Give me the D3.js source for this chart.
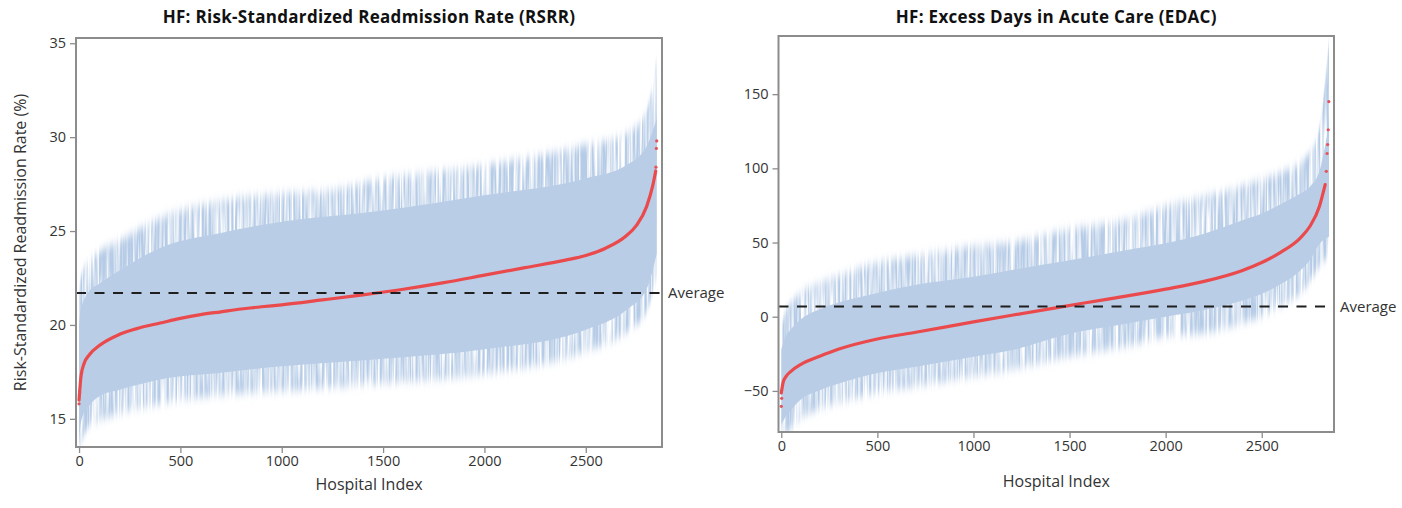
<!DOCTYPE html>
<html>
<head>
<meta charset="utf-8">
<script src="https://cdn.jsdelivr.net/npm/d3@7"></script>
<style>
    body { margin: 0; background: #fff; }
    svg { display: block; }
</style>
</head>
<body>
<div id="chart"></div>
<script>
// ---- data ----
const xTicks = [0, 500, 1000, 1500, 2000, 2500]

// RSRR panel
const rsrrTicks = [15, 20, 25, 30, 35]
const rsrrAverage = 21.7
const rsrrEstIdx = [0, 10, 25, 50, 100, 200, 300, 400, 500, 600, 700, 800, 900, 1000, 1200, 1400, 1600, 1800, 2000, 2200, 2400, 2500, 2600, 2700, 2750, 2800, 2830, 2845]
const rsrrEst = [16.0, 17.3, 17.95, 18.4, 18.9, 19.5, 19.85, 20.1, 20.35, 20.55, 20.7, 20.85, 20.97, 21.07, 21.33, 21.6, 21.9, 22.25, 22.65, 23.05, 23.45, 23.7, 24.1, 24.75, 25.3, 26.3, 27.4, 28.2]
const rsrrDotIdx = [0, 3, 2846, 2848, 2850]
const rsrrDot = [15.8, 16.4, 28.4, 29.4, 29.8]
const rsrrBandIdx = [0, 5, 20, 50, 100, 200, 400, 700, 1000, 1250, 1500, 2000, 2500, 2700, 2800, 2850]
const rsrrCoreHi = [20.0, 20.6, 21.2, 21.8, 22.2, 22.9, 24.1, 24.9, 25.5, 25.8, 26.1, 26.9, 27.8, 28.5, 29.5, 31.0]
const rsrrCoreLo = [13.6, 14.4, 15.2, 15.7, 16.2, 16.55, 17.1, 17.45, 17.8, 18.0, 18.2, 18.7, 19.75, 20.8, 21.9, 23.8]
const rsrrSpikeHi = [21.4, 22.3, 22.9, 23.4, 23.9, 24.5, 25.7, 26.6, 27.0, 27.2, 27.8, 28.5, 29.6, 30.2, 31.4, 34.3]
const rsrrSpikeLo = [13.5, 13.5, 14.0, 14.6, 14.9, 15.3, 15.8, 16.3, 16.5, 16.7, 16.9, 17.4, 18.6, 19.6, 20.7, 22.6]

// EDAC panel
const edacTicks = [-50, 0, 50, 100, 150]
const edacAverage = 6.9
const edacEstIdx = [0, 10, 25, 50, 100, 200, 300, 500, 700, 1000, 1200, 1450, 1700, 2000, 2200, 2400, 2500, 2600, 2700, 2750, 2800, 2830]
const edacEst = [-51.4, -44, -40.2, -36.8, -32.3, -26.7, -21.8, -15.0, -10.5, -3.5, 1.0, 6.5, 11.9, 18.6, 23.8, 31.2, 36.5, 43.5, 53, 60.8, 74.3, 89]
const edacDotIdx = [0, 2, 2836, 2840, 2843, 2846, 2849]
const edacDot = [-60.4, -55, 98, 110, 116, 126, 145]
const edacBandIdx = [0, 25, 50, 100, 200, 300, 500, 700, 1000, 1200, 1500, 1800, 2000, 2200, 2400, 2500, 2600, 2700, 2750, 2800, 2850]
const edacCoreHi = [-22, -13, -8.5, -2, 5, 9.5, 16, 21.5, 27, 31.5, 38, 45, 49.5, 56, 65, 69.5, 76, 83, 87.5, 98, 130]
const edacCoreLo = [-73, -67, -63, -56, -49.5, -45, -38, -33.7, -27, -22.5, -11.5, -4.5, 0, 4.5, 11, 15.5, 22, 31, 38, 49, 54]
const edacSpikeHi = [-8, 5, 9.5, 16, 22.5, 27.5, 36.5, 41, 47.5, 50, 59, 65.5, 74.5, 81, 88, 92.5, 97, 104, 111, 127, 186]
const edacSpikeLo = [-78, -78, -76, -69, -62, -58, -51, -46.7, -40, -35.5, -26.5, -19.7, -13, -11, -4, 0.5, 7, 16, 23, 34, 41]

const W = 1402, H = 508
const FONT = "'Open Sans', 'DejaVu Sans', sans-serif"
const AXIS_COLOR = "#8c8c8c"
const TEXT_COLOR = "#333"

const svg = d3.select("#chart")
    .append("svg")
    .attr("width", W)
    .attr("height", H)

// vertical streak texture for the ragged fringe of the interval band
const defs = svg.append("defs")
const streak = defs.append("filter")
    .attr("id", "streak")
    .attr("x", 0).attr("y", -0.05).attr("width", 1).attr("height", 1.1)
streak.append("feGaussianBlur")
    .attr("in", "SourceGraphic")
    .attr("stdDeviation", "0 5")
    .attr("result", "soft")
streak.append("feTurbulence")
    .attr("type", "fractalNoise")
    .attr("baseFrequency", "0.45 0.012")
    .attr("numOctaves", 2)
    .attr("seed", 7)
    .attr("result", "n")
streak.append("feColorMatrix")
    .attr("in", "n")
    .attr("type", "matrix")
    .attr("values", "0 0 0 0 0  0 0 0 0 0  0 0 0 0 0  0 0 0 2.4 -0.6")
    .attr("result", "a")
streak.append("feComposite")
    .attr("in", "soft")
    .attr("in2", "a")
    .attr("operator", "in")

const drawPanel = (p) => {
    const width = p.right - p.left
    const height = p.bottom - p.top

    const g = svg.append("g")
        .attr("transform", "translate(" + p.left + "," + p.top + ")")

    const x = d3.scaleLinear().domain(p.xDomain).range([0, width])
    const y = d3.scaleLinear().domain(p.yDomain).range([height, 0])

    defs.append("clipPath")
        .attr("id", p.id + "-clip")
        .append("rect")
        .attr("width", width)
        .attr("height", height)

    const plot = g.append("g").attr("clip-path", "url(#" + p.id + "-clip)")

    const band = p.bandIdx.map((d, i) => ({
        i: d, coreLo: p.coreLo[i], coreHi: p.coreHi[i], spikeLo: p.spikeLo[i], spikeHi: p.spikeHi[i]
    }))

    // outer fringe (spikes)
    plot.append("path")
        .datum(band)
        .attr("fill", "#b5cbe6")
        .attr("filter", "url(#streak)")
        .attr("d", d3.area()
            .curve(d3.curveMonotoneX)
            .x(d => x(d.i))
            .y0(d => y(d.spikeLo))
            .y1(d => y(d.spikeHi)))

    // dense core of the band
    plot.append("path")
        .datum(band)
        .attr("fill", "#b9cde6")
        .attr("d", d3.area()
            .curve(d3.curveMonotoneX)
            .x(d => x(d.i))
            .y0(d => y(d.coreLo))
            .y1(d => y(d.coreHi)))

    // estimates
    const est = p.estIdx.map((d, i) => ({ i: d, v: p.est[i] }))
    plot.append("path")
        .datum(est)
        .attr("fill", "none")
        .attr("stroke", "#ea4a4c")
        .attr("stroke-width", 3.2)
        .attr("stroke-linecap", "round")
        .attr("d", d3.line()
            .curve(d3.curveMonotoneX)
            .x(d => x(d.i))
            .y(d => y(d.v)))

    plot.append("g")
        .selectAll("circle")
        .data(p.dotIdx.map((d, i) => ({ i: d, v: p.dot[i] })))
        .enter()
        .append("circle")
        .attr("cx", d => x(d.i))
        .attr("cy", d => y(d.v))
        .attr("r", 1.6)
        .attr("fill", "#e4525a")

    // average line
    g.append("line")
        .attr("x1", 0)
        .attr("x2", width)
        .attr("y1", y(p.average))
        .attr("y2", y(p.average))
        .attr("stroke", "#1f1f1f")
        .attr("stroke-width", 2)
        .attr("stroke-dasharray", "10,8.5")

    g.append("text")
        .attr("x", width + 6)
        .attr("y", y(p.average))
        .attr("dy", "0.35em")
        .text("Average")
        .attr("font-size", 15)
        .attr("font-family", FONT)
        .style("fill", TEXT_COLOR)

    // axes
    const xAxis = g.append("g")
        .attr("transform", "translate(0," + height + ")")
        .call(d3.axisBottom(x).tickValues(p.xTicks).tickFormat(d3.format("d")).tickSize(6).tickPadding(3))
    const yAxis = g.append("g")
        .call(d3.axisLeft(y).tickValues(p.yTicks).tickFormat(d3.format("d")).tickSize(6).tickPadding(4))

    ;[xAxis, yAxis].forEach(a => {
        a.select(".domain").remove()
        a.selectAll(".tick line").attr("stroke", AXIS_COLOR).attr("stroke-width", 1.3)
        a.selectAll(".tick text")
            .attr("font-size", 14.5)
            .attr("font-family", FONT)
            .style("fill", TEXT_COLOR)
    })

    // frame
    g.append("rect")
        .attr("width", width)
        .attr("height", height)
        .attr("fill", "none")
        .attr("stroke", AXIS_COLOR)
        .attr("stroke-width", 2)

    // titles
    svg.append("text")
        .attr("x", p.left + width / 2)
        .attr("y", 23)
        .attr("text-anchor", "middle")
        .text(p.title)
        .attr("font-size", 17)
        .attr("letter-spacing", 0.3)
        .attr("font-weight", "bold")
        .attr("font-family", FONT)
        .style("fill", "#111")

    svg.append("text")
        .attr("x", p.left + width / 2)
        .attr("y", p.xLabelY)
        .attr("text-anchor", "middle")
        .text("Hospital Index")
        .attr("font-size", 16)
        .attr("font-family", FONT)
        .style("fill", TEXT_COLOR)

    if (p.yLabel) {
        svg.append("text")
            .attr("transform", "translate(" + 26 + "," + (p.top + height / 2) + ") rotate(-90)")
            .attr("text-anchor", "middle")
            .text(p.yLabel)
            .attr("font-size", 16)
            .attr("font-family", FONT)
            .style("fill", TEXT_COLOR)
    }
}

drawPanel({
    id: "rsrr",
    title: "HF: Risk-Standardized Readmission Rate (RSRR)",
    yLabel: "Risk-Standardized Readmission Rate (%)",
    left: 76, right: 662, top: 38, bottom: 447, xLabelY: 490,
    xDomain: [-15, 2876], yDomain: [13.5, 35.28],
    xTicks: xTicks, yTicks: rsrrTicks, average: rsrrAverage,
    estIdx: rsrrEstIdx, est: rsrrEst, dotIdx: rsrrDotIdx, dot: rsrrDot,
    bandIdx: rsrrBandIdx, coreLo: rsrrCoreLo, coreHi: rsrrCoreHi, spikeLo: rsrrSpikeLo, spikeHi: rsrrSpikeHi
})

drawPanel({
    id: "edac",
    title: "HF: Excess Days in Acute Care (EDAC)",
    left: 778.5, right: 1334, top: 36, bottom: 432, xLabelY: 487,
    xDomain: [-14.5, 2876], yDomain: [-77.7, 189.2],
    xTicks: xTicks, yTicks: edacTicks, average: edacAverage,
    estIdx: edacEstIdx, est: edacEst, dotIdx: edacDotIdx, dot: edacDot,
    bandIdx: edacBandIdx, coreLo: edacCoreLo, coreHi: edacCoreHi, spikeLo: edacSpikeLo, spikeHi: edacSpikeHi
})
</script>
</body>
</html>
